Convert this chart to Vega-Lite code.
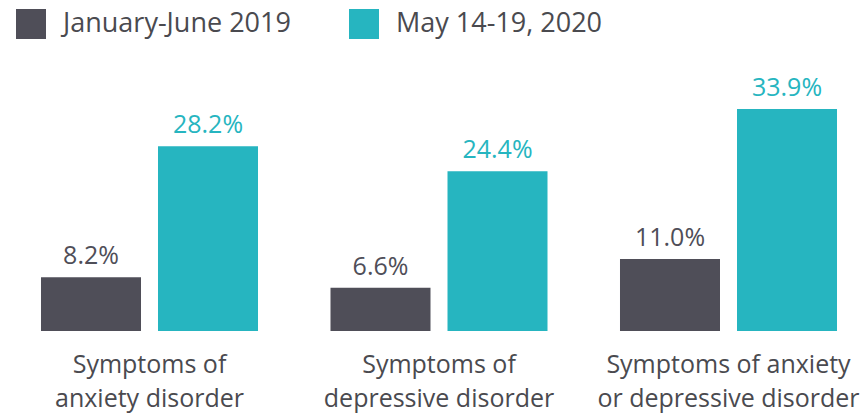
{
  "$schema": "https://vega.github.io/schema/vega-lite/v6.json",
  "width": 852,
  "height": 262,
  "autosize": "none",
  "padding": {"left": 13, "top": 69, "right": 0, "bottom": 82},
  "background": "white",
  "config": {
    "view": {"stroke": null},
    "font": "Open Sans"
  },
  "data": {
    "values": [
      {"category": "Symptoms of|anxiety disorder", "period": "January-June 2019", "value": 0.082},
      {"category": "Symptoms of|anxiety disorder", "period": "May 14-19, 2020", "value": 0.282},
      {"category": "Symptoms of|depressive disorder", "period": "January-June 2019", "value": 0.066},
      {"category": "Symptoms of|depressive disorder", "period": "May 14-19, 2020", "value": 0.244},
      {"category": "Symptoms of anxiety|or depressive disorder", "period": "January-June 2019", "value": 0.110},
      {"category": "Symptoms of anxiety|or depressive disorder", "period": "May 14-19, 2020", "value": 0.339}
    ]
  },
  "encoding": {
    "x": {
      "field": "category",
      "type": "nominal",
      "sort": null,
      "scale": {"paddingInner": 0.2504, "paddingOuter": 0.0967},
      "axis": {
        "title": null,
        "domain": false,
        "ticks": false,
        "labelAngle": 0,
        "labelFontSize": 25,
        "labelLineHeight": 34,
        "labelPadding": 21,
        "labelLimit": 0,
        "labelColor": "#4a4a4f",
        "labelFont": "Open Sans",
        "labelExpr": "split(datum.label, '|')"
      }
    },
    "xOffset": {
      "field": "period",
      "type": "nominal",
      "scale": {"paddingInner": 0.1453}
    },
    "y": {
      "field": "value",
      "type": "quantitative",
      "scale": {"domain": [0, 0.4]},
      "axis": null
    }
  },
  "layer": [
    {
      "mark": {"type": "bar"},
      "encoding": {
        "color": {
          "field": "period",
          "type": "nominal",
          "scale": {"domain": ["January-June 2019", "May 14-19, 2020"], "range": ["#4f4e58", "#26b5c0"]},
          "legend": {
            "title": null,
            "orient": "none",
            "direction": "horizontal",
            "legendX": 3,
            "legendY": -60,
            "padding": 0,
            "symbolType": "square",
            "symbolSize": 900,
            "symbolStrokeWidth": 0,
            "symbolOpacity": 1,
            "labelFontSize": 27,
            "labelFont": "Open Sans",
            "labelLimit": 0,
            "labelColor": "#4a4a4f",
            "labelOffset": 17,
            "columnPadding": 58
          }
        }
      }
    },
    {
      "mark": {"type": "text", "baseline": "alphabetic", "dy": -13, "fontSize": 25, "font": "Open Sans"},
      "encoding": {
        "text": {"field": "value", "type": "quantitative", "format": ".1%"},
        "color": {
          "field": "period",
          "type": "nominal",
          "scale": {"domain": ["January-June 2019", "May 14-19, 2020"], "range": ["#4f4e58", "#26b5c0"]},
          "legend": null
        }
      }
    }
  ]
}
